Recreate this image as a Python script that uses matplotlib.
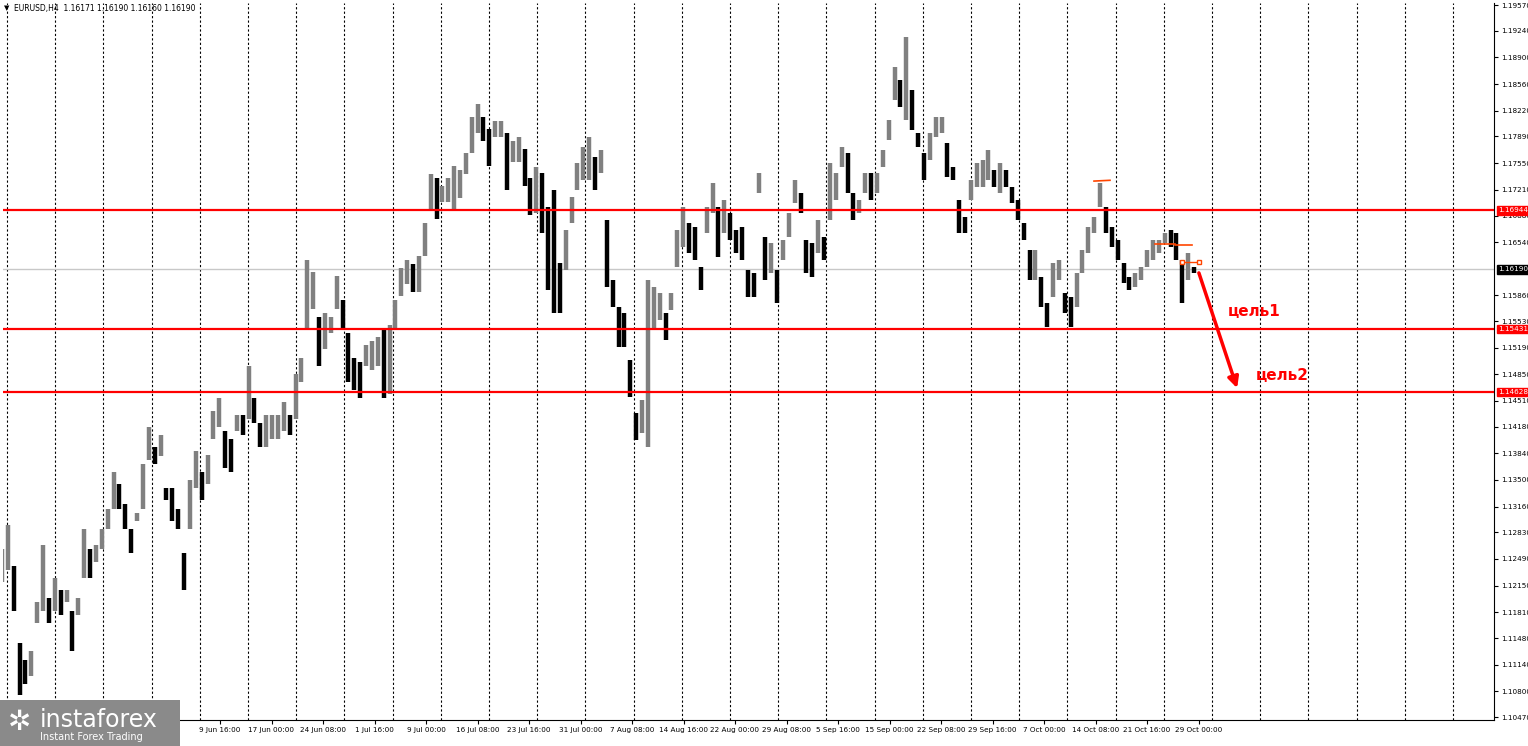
import matplotlib
matplotlib.use("Agg")
import numpy as np
from matplotlib import pyplot as plt
from matplotlib.patches import Rectangle

# EURUSD H4 - bar highs / lows (oldest first)
highs = [
    1.1262, 1.1292, 1.1240, 1.1142, 1.1120, 1.1131, 1.1194, 1.1267, 1.1199, 1.1225,
    1.1209, 1.1209, 1.1183, 1.1199, 1.1287, 1.1262, 1.1267, 1.1287, 1.1313, 1.1360,
    1.1345, 1.1319, 1.1287, 1.1308, 1.1370, 1.1418, 1.1392, 1.1408, 1.1340, 1.1340,
    1.1313, 1.1257, 1.1350, 1.1387, 1.1360, 1.1382, 1.1438, 1.1455, 1.1413, 1.1402,
    1.1433, 1.1433, 1.1496, 1.1455, 1.1423, 1.1433, 1.1433, 1.1433, 1.1450, 1.1433,
    1.1485, 1.1506, 1.1631, 1.1616, 1.1558, 1.1563, 1.1558, 1.1611, 1.1580, 1.1538,
    1.1506, 1.1501, 1.1522, 1.1528, 1.1533, 1.1543, 1.1548, 1.1580, 1.1621, 1.1631,
    1.1626, 1.1636, 1.1678, 1.1741, 1.1736, 1.1726, 1.1736, 1.1751, 1.1746, 1.1768,
    1.1814, 1.1830, 1.1814, 1.1799, 1.1809, 1.1809, 1.1793, 1.1783, 1.1788, 1.1773,
    1.1736,
    1.1750, 1.1742, 1.1699, 1.1721, 1.1627, 1.1670, 1.1712, 1.1755, 1.1776, 1.1788,
    1.1763, 1.1772, 1.1682, 1.1606, 1.1571, 1.1563, 1.1503, 1.1436, 1.1452, 1.1606,
    1.1597, 1.1589, 1.1563, 1.1589, 1.1670, 1.1699, 1.1678, 1.1673, 1.1622, 1.1699,
    1.1729, 1.1699, 1.1708, 1.1691, 1.1670, 1.1673, 1.1618, 1.1614, 1.1742, 1.1660,
    1.1653, 1.1618, 1.1657, 1.1691, 1.1733, 1.1717, 1.1657, 1.1653,
    1.1682, 1.1660, 1.1755, 1.1742, 1.1776, 1.1768, 1.1717, 1.1708, 1.1742, 1.1742,
    1.1742, 1.1772, 1.1810, 1.1878, 1.1861, 1.1916, 1.1848, 1.1793, 1.1768, 1.1793,
    1.1814, 1.1814, 1.1781, 1.1750, 1.1708, 1.1686, 1.1733, 1.1755, 1.1759, 1.1772,
    1.1746, 1.1755, 1.1746, 1.1724, 1.1708, 1.1678, 1.1644, 1.1644, 1.1610, 1.1576,
    1.1627, 1.1631, 1.1589, 1.1584, 1.1614, 1.1644, 1.1673, 1.1686, 1.1729, 1.1699,
    1.1673, 1.1657, 1.1627, 1.1610, 1.1614, 1.1622, 1.1644, 1.1657, 1.1657, 1.1666,
    1.1670, 1.1666, 1.1631, 1.1640, 1.1622,
]
lows = [
    1.1220, 1.1235, 1.1183, 1.1075, 1.1089, 1.1100, 1.1167, 1.1183, 1.1167, 1.1183,
    1.1177, 1.1194, 1.1131, 1.1177, 1.1225, 1.1225, 1.1245, 1.1262, 1.1287, 1.1313,
    1.1313, 1.1287, 1.1257, 1.1298, 1.1313, 1.1376, 1.1370, 1.1381, 1.1324, 1.1298,
    1.1287, 1.1209, 1.1287, 1.1340, 1.1324, 1.1345, 1.1402, 1.1418, 1.1365, 1.1360,
    1.1413, 1.1408, 1.1428, 1.1423, 1.1392, 1.1392, 1.1402, 1.1402, 1.1413, 1.1408,
    1.1428, 1.1475, 1.1543, 1.1568, 1.1496, 1.1517, 1.1538, 1.1568, 1.1543, 1.1475,
    1.1465, 1.1455, 1.1496, 1.1491, 1.1496, 1.1455, 1.1460, 1.1543, 1.1585, 1.1600,
    1.1590, 1.1590, 1.1636, 1.1694, 1.1683, 1.1705, 1.1705, 1.1694, 1.1710, 1.1741,
    1.1768, 1.1793, 1.1783, 1.1751, 1.1788, 1.1788, 1.1721, 1.1756, 1.1756, 1.1726,
    1.1689,
    1.1691, 1.1666, 1.1593, 1.1563, 1.1563, 1.1618, 1.1678, 1.1721, 1.1733, 1.1733,
    1.1721, 1.1742, 1.1597, 1.1571, 1.1520, 1.1520, 1.1456, 1.1401, 1.1410, 1.1392,
    1.1542, 1.1554, 1.1529, 1.1567, 1.1622, 1.1648, 1.1640, 1.1631, 1.1593, 1.1666,
    1.1691, 1.1635, 1.1666, 1.1657, 1.1640, 1.1631, 1.1584, 1.1584, 1.1717, 1.1606,
    1.1615, 1.1576, 1.1631, 1.1660, 1.1704, 1.1691, 1.1615, 1.1610,
    1.1640, 1.1631, 1.1682, 1.1708, 1.1750, 1.1717, 1.1682, 1.1691, 1.1717, 1.1708,
    1.1717, 1.1750, 1.1784, 1.1836, 1.1827, 1.1810, 1.1797, 1.1776, 1.1733, 1.1759,
    1.1788, 1.1793, 1.1737, 1.1733, 1.1666, 1.1666, 1.1708, 1.1724, 1.1724, 1.1733,
    1.1724, 1.1717, 1.1724, 1.1704, 1.1682, 1.1657, 1.1606, 1.1606, 1.1571, 1.1545,
    1.1584, 1.1606, 1.1563, 1.1545, 1.1571, 1.1614, 1.1640, 1.1666, 1.1699, 1.1666,
    1.1648, 1.1631, 1.1602, 1.1593, 1.1597, 1.1606, 1.1622, 1.1631, 1.1640, 1.1653,
    1.1648, 1.1631, 1.1576, 1.1606, 1.1614,
]

levels = [1.16944, 1.15431, 1.14628]
last_price = 1.16190
title_text = "EURUSD,H4  1.16171 1.16190 1.16160 1.16190"

y_ticks = [1.19570, 1.19240, 1.18900, 1.18560, 1.18220, 1.17890, 1.17550, 1.17210,
           1.16880, 1.16540, 1.15860, 1.15530, 1.15190, 1.14850, 1.14510,
           1.14180, 1.13840, 1.13500, 1.13160, 1.12830, 1.12490, 1.12150, 1.11810,
           1.11480, 1.11140, 1.10800, 1.10470]
x_labels = ["9 Jun 16:00", "17 Jun 00:00", "24 Jun 08:00", "1 Jul 16:00", "9 Jul 00:00",
            "16 Jul 08:00", "23 Jul 16:00", "31 Jul 00:00", "7 Aug 08:00", "14 Aug 16:00",
            "22 Aug 00:00", "29 Aug 08:00", "5 Sep 16:00", "15 Sep 00:00", "22 Sep 08:00",
            "29 Sep 16:00", "7 Oct 00:00", "14 Oct 08:00", "21 Oct 16:00", "29 Oct 00:00"]

W, H = 1528, 746
fig = plt.figure(figsize=(W / 100, H / 100), dpi=100)
ax = fig.add_axes([3 / W, 26 / H, 1491 / W, 717 / H])

n = len(highs)
s = 1192 / (n - 1)          # pixels per bar


def px(p):
    return (p - 2) / s


ax.set_xlim(px(3), px(1494))
ax.set_ylim(1.10432, 1.19596)

# vertical dotted grid
for g in np.arange(7, 1494, 48.2):
    ax.axvline(px(g), color="black", lw=0.8, ls=(0, (2, 2)), zorder=1)

ax.axhline(last_price, color="#c8c8c8", lw=1, zorder=1)
for lv in levels:
    ax.axhline(lv, color="#ff0000", lw=1.6, zorder=3)

idx = np.arange(n)
mid = (np.array(highs) + np.array(lows)) / 2
up = np.r_[True, np.diff(mid) >= 0]
cols = np.where(up, "#808080", "#000000")
ax.vlines(idx, lows, highs, colors=cols, lw=3.2, zorder=2)

# small orange markers
ax.plot([px(1094), px(1110)], [1.1732, 1.1733], color="#ff4500", lw=1.2)
ax.plot([px(1155), px(1175)], [1.1652, 1.1652], color="#ff4500", lw=1.2)
ax.plot([px(1175), px(1192)], [1.1650, 1.1650], color="#ff4500", lw=1.2)
ax.plot([px(1182), px(1199)], [1.1628, 1.1628], color="#ff4500", lw=1, marker="s",
        ms=3, mfc="white", mec="#ff4500")

# target arrow and labels
ax.annotate("", xy=(px(1238), 1.1464), xytext=(px(1198), 1.1618),
            arrowprops=dict(arrowstyle="-|>", color="#ff0000", lw=2.5, mutation_scale=16))
ax.text(px(1228), 1.1560, "цель1", color="#ff0000", fontsize=11, fontweight="bold")
ax.text(px(1256), 1.1478, "цель2", color="#ff0000", fontsize=11, fontweight="bold")

# right price axis
ax.yaxis.tick_right()
ax.set_yticks(y_ticks)
ax.set_yticklabels([f"{v:.5f}" for v in y_ticks], fontsize=5.2)
ax.tick_params(axis="y", length=3, pad=2)
lab_pos = [220 + i * 51.5 for i in range(len(x_labels))]
ax.set_xticks([px(p) for p in lab_pos])
ax.set_xticklabels(x_labels, fontsize=5.2)
ax.tick_params(axis="x", length=3, pad=2)
for sp in ["top", "left"]:
    ax.spines[sp].set_visible(False)

# price boxes on the axis
for lv in levels:
    ax.text(1.003, lv, f"{lv:.5f}", transform=ax.get_yaxis_transform(), fontsize=5.2,
            color="white", va="center", ha="left",
            bbox=dict(boxstyle="square,pad=0.15", fc="#ff0000", ec="#ff0000"))
ax.text(1.003, last_price, f"{last_price:.5f}", transform=ax.get_yaxis_transform(),
        fontsize=5.2, color="white", va="center", ha="left",
        bbox=dict(boxstyle="square,pad=0.15", fc="black", ec="black"))

fig.text(14 / W, 1 - 8 / H, title_text, fontsize=5.5, va="center")
fig.text(4 / W, 1 - 8 / H, "▼", fontsize=5, va="center")

# logo
fig.patches.append(Rectangle((0, 0), 180 / W, 46 / H, transform=fig.transFigure,
                             fc="#8a8a8a", ec="none", zorder=5))
fig.text(40 / W, 26 / H, "instaforex", fontsize=17, color="white", va="center", zorder=6)
fig.text(40 / W, 9 / H, "Instant Forex Trading", fontsize=7, color="white", va="center",
         zorder=6)
fig.text(8 / W, 24 / H, "✲", fontsize=20, color="white", va="center", zorder=6)

fig.savefig("out.png", dpi=100)
